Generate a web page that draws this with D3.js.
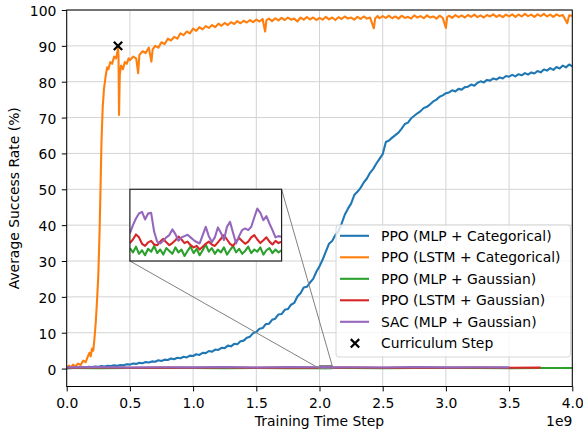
<!DOCTYPE html>
<html><head><meta charset="utf-8">
<script src="https://cdn.jsdelivr.net/npm/d3@7"></script>
<style>html,body{margin:0;padding:0;background:#fff}svg{display:block}text{font-family:"DejaVu Sans",sans-serif}</style>
</head><body>
<svg id="c" width="583" height="437"></svg>
<script>
// ---------- DATA (x in units of 1e9 training steps) ----------
const xTicks = [0.0,0.5,1.0,1.5,2.0,2.5,3.0,3.5,4.0];
const yTicks = [0,10,20,30,40,50,60,70,80,90,100];
const seriesNames = ["PPO (MLP + Categorical)","PPO (LSTM + Categorical)","PPO (MLP + Gaussian)","PPO (LSTM + Gaussian)","SAC (MLP + Gaussian)"];
const seriesColors = ["#1f77b4","#ff7f0e","#2ca02c","#d62728","#9467bd"];
const markerName = "Curriculum Step";

const blueStep = 0.025;
const blueY = [0.0,0.1,0.2,0.3,0.2,0.4,0.3,0.5,0.4,0.6,0.5,0.7,0.6,0.8,0.7,0.9,0.8,1.0,0.9,1.2,
1.1,1.4,1.3,1.6,1.5,1.8,1.7,2.0,1.9,2.3,2.1,2.5,2.4,2.8,2.6,3.0,2.9,3.3,3.1,3.6,
3.5,4.0,3.8,4.4,4.3,4.9,4.7,5.3,5.2,5.8,5.7,6.4,6.2,6.9,6.8,7.6,7.8,8.6,8.9,9.9,
10.2,11.1,11.3,12.4,12.5,13.6,13.9,15.1,15.2,16.4,16.6,17.8,18.3,20.1,21.0,22.6,22.8,24.0,25.0,27.0,
28.5,30.4,32.6,34.8,35.6,37.2,38.3,40.4,42.9,44.6,46.0,48.4,49.3,50.4,51.9,53.0,54.6,55.7,57.2,58.5,
59.8,63.2,63.6,64.4,65.1,65.8,66.9,68.2,68.6,69.8,70.5,71.2,71.8,72.7,73.0,73.7,74.5,75.0,75.8,76.2,
76.8,77.0,77.6,77.3,78.0,77.8,78.5,78.6,79.2,78.9,79.7,80.1,79.8,80.5,80.3,80.9,80.6,81.2,80.9,81.6,
81.4,81.9,81.5,82.1,81.8,82.4,82.0,82.6,82.3,83.0,82.6,83.4,83.1,83.8,83.3,84.1,83.7,84.5,84.0,84.8,84.3];

const orangeX = [0.00,0.02,0.03,0.05,0.07,0.09,0.11,0.13,0.15,0.17,0.18,0.19,0.20,0.21,0.22,0.23,0.24,0.25,0.26,0.265,
0.275,0.285,0.295,0.31,0.32,0.33,0.345,0.36,0.375,0.39,0.40,0.406,0.41,0.414,0.42,0.43,0.445,0.46,0.475,0.49,
0.50,0.525,0.55,0.565,0.575,0.60,0.625,0.65,0.67,0.68,0.70,0.725,0.75,0.775,0.80,0.825,0.85,0.875,0.90,0.925,
0.95,0.975,1.00,1.025,1.05,1.075,1.10,1.125,1.15,1.175,1.20,1.225,1.25,1.275,1.30,1.325,1.35,1.375,1.40,1.425,
1.45,1.475,1.50,1.525,1.55,1.57,1.58,1.60,1.625,1.65,1.675,1.70,1.725,1.75,1.775,1.80,1.825,1.85,1.875,1.90,
1.925,1.95,1.975,2.00,2.025,2.05,2.075,2.10,2.125,2.15,2.175,2.20,2.225,2.25,2.275,2.30,2.325,2.35,2.375,2.40,
2.43,2.44,2.46,2.475,2.50,2.525,2.55,2.575,2.60,2.625,2.65,2.675,2.70,2.725,2.75,2.775,2.80,2.825,2.85,2.875,
2.90,2.925,2.95,2.975,3.00,3.01,3.025,3.05,3.075,3.10,3.125,3.15,3.175,3.20,3.225,3.25,3.275,3.30,3.325,3.35,
3.375,3.40,3.425,3.45,3.475,3.50,3.525,3.55,3.575,3.60,3.625,3.65,3.675,3.70,3.725,3.75,3.775,3.80,3.825,3.85,
3.875,3.90,3.925,3.96,3.975,4.00];
const orangeY = [0.3,0.8,0.2,1.1,0.6,1.4,1.0,2.2,1.8,3.6,4.4,3.4,5.6,5.0,8.5,13,19,26,38,46,
63,73,78,82,84,83.5,85.5,85,87,86.5,88,89.5,87,70.7,82,84.5,83.5,85.5,85,86.5,
86,87,86.5,82.4,87.5,88.5,88,89.5,85.6,89,90,89.5,91,90.5,92,91.5,92.5,92,93.5,93,
94,93.5,94.8,94.2,95.2,94.6,95.5,95,95.8,95.2,96.2,95.6,96.4,95.8,96.6,96.1,96.9,96.3,97,96.5,
97.2,96.6,97.3,96.8,97.5,94.0,97.2,97.6,96.9,97.7,97.1,97.8,97.2,97.9,97.3,97.6,96.8,97.9,97.3,98.0,
97.4,97.9,97.2,97.8,97.3,98.1,97.4,97.9,97.2,98.0,97.5,98.2,97.6,97.9,97.3,98.1,97.5,98.2,97.6,97.9,
94.9,97.6,98.3,97.7,98.3,97.8,98.4,97.7,98.2,97.6,98.4,97.8,98.1,97.6,98.5,97.9,98.3,97.7,98.5,97.9,
98.2,97.6,98.4,97.8,95.0,98.0,98.4,97.8,98.6,98.0,98.5,97.9,98.6,98.1,98.7,98.0,98.5,97.9,98.6,98.2,
98.8,98.1,98.6,98.0,98.7,98.2,98.8,98.1,98.7,98.2,98.9,98.3,98.7,98.1,98.8,98.3,98.9,98.2,98.7,98.1,
98.8,98.3,98.6,96.3,98.5,98.4];

// low (near-zero) series: coarse points over the whole run
const lowX = [0,0.25,0.5,0.75,1.0,1.25,1.5,1.75,2.25,2.5,2.75,3.0,3.25,3.5,3.75,4.0];
const greenLow  = [0.15,0.12,0.18,0.14,0.16,0.11,0.17,0.13,0.15,0.12,0.16,0.14,0.18,0.13,0.15,0.14];
const redLow    = [0.25,0.28,0.22,0.27,0.24,0.30,0.23,0.26,0.28,0.22,0.27,0.25,0.29,0.24,0.26];
const purpleLow = [0.34,0.40,0.30,0.38,0.33,0.45,0.31,0.39,0.36,0.30,0.42,0.33,0.37,0.34];
const greenEnd = 4.0, redEnd = 3.75, purpleEnd = 3.5;

// zoomed window (inset) detail, x from 2.0 to 2.1
const zoomX0 = 2.0, zoomStep = 0.002;
const greenZoom = [0.18,0.12,0.20,0.10,0.15,0.08,0.17,0.13,0.21,0.11,0.16,0.09,0.18,0.14,0.10,0.19,0.12,0.16,0.07,0.14,
0.20,0.11,0.17,0.08,0.15,0.23,0.13,0.18,0.10,0.16,0.12,0.19,0.09,0.15,0.21,0.12,0.17,0.10,0.14,0.20,
0.11,0.16,0.13,0.19,0.09,0.15,0.18,0.11,0.16,0.12,0.15];
const redZoom = [0.25,0.30,0.37,0.33,0.24,0.21,0.26,0.28,0.23,0.22,0.27,0.31,0.26,0.22,0.25,0.29,0.34,0.30,0.25,0.27,
0.22,0.19,0.21,0.16,0.20,0.24,0.27,0.23,0.21,0.26,0.31,0.36,0.30,0.24,0.21,0.27,0.32,0.28,0.24,0.27,
0.33,0.36,0.30,0.25,0.29,0.33,0.27,0.23,0.28,0.25,0.27];
const purpleZoom = [0.384,0.500,0.593,0.662,0.685,0.579,0.662,0.671,0.407,0.269,0.245,0.282,0.329,0.361,0.440,0.375,0.282,0.329,0.347,0.366,
0.329,0.292,0.264,0.245,0.361,0.477,0.347,0.264,0.329,0.468,0.394,0.292,0.477,0.546,0.394,0.245,0.347,0.431,0.454,0.431,
0.477,0.606,0.731,0.671,0.569,0.625,0.523,0.431,0.329,0.347,0.338];
const zoomY = [0, 0.85];

const curriculum = [{x:0.406, y:90}];

// inset placement in data coords of the main axes
const insetBox = {x0:0.5, x1:1.7, y0:30, y1:50};
const insetY = [0, 1];

// ---------- BUILD ----------
const zoomXs = greenZoom.map((_,i)=> zoomX0 + i*zoomStep);
const zoomX1 = zoomXs[zoomXs.length-1];
function buildLow(low, zoomVals, end){
  const pts = low.map((v,i)=>({x:lowX[i], y:v})).filter(p=>p.x<=end);
  zoomVals.forEach((v,i)=>pts.push({x:zoomXs[i], y:v}));
  pts.sort((a,b)=>a.x-b.x);
  return pts;
}
const blue = blueY.map((v,i)=>({x:i*blueStep, y:v}));
const orange = orangeY.map((v,i)=>({x:orangeX[i], y:v}));
const green = buildLow(greenLow, greenZoom, greenEnd);
const red = buildLow(redLow, redZoom, redEnd);
const purple = buildLow(purpleLow, purpleZoom, purpleEnd);
const allSeries = [blue, orange, green, red, purple];

const svg = d3.select("#c");
const L=66.7, R=572.3, T=10, B=386.5;
const x = d3.scaleLinear().domain([0,4]).range([L,R]);
const y = d3.scaleLinear().domain([-5,100]).range([B,T]);
const FS = "13.9px";
const LW = 2.1;

// grid
const g = svg.append("g");
g.selectAll(".gx").data(xTicks).join("line")
  .attr("x1",d=>x(d)).attr("x2",d=>x(d)).attr("y1",T).attr("y2",B)
  .attr("stroke","#d3d3d3").attr("stroke-width",1);
g.selectAll(".gy").data(yTicks).join("line")
  .attr("y1",d=>y(d)).attr("y2",d=>y(d)).attr("x1",L).attr("x2",R)
  .attr("stroke","#d3d3d3").attr("stroke-width",1);

svg.append("clipPath").attr("id","clip").append("rect")
  .attr("x",L).attr("y",T).attr("width",R-L).attr("height",B-T);

const line = d3.line().x(d=>x(d.x)).y(d=>y(d.y));
const lines = svg.append("g").attr("clip-path","url(#clip)");
allSeries.forEach((s,i)=>{
  lines.append("path").datum(s).attr("d",line).attr("fill","none")
    .attr("stroke",seriesColors[i]).attr("stroke-width",LW).attr("stroke-linejoin","round");
});

// curriculum marker
function xMark(sel, cx, cy, r){
  sel.append("path").attr("d",`M${cx-r},${cy-r}L${cx+r},${cy+r}M${cx-r},${cy+r}L${cx+r},${cy-r}`)
    .attr("stroke","#000").attr("stroke-width",2.2).attr("fill","none");
}
curriculum.forEach(p=>xMark(svg, x(p.x), y(p.y), 4.2));

// axes
const xAxis = svg.append("g").attr("transform",`translate(0,${B})`)
  .call(d3.axisBottom(x).tickValues(xTicks).tickFormat(d3.format(".1f")).tickSize(4.9).tickSizeOuter(0));
const yAxis = svg.append("g").attr("transform",`translate(${L},0)`)
  .call(d3.axisLeft(y).tickValues(yTicks).tickFormat(d3.format("d")).tickSize(4.9).tickPadding(5.5).tickSizeOuter(0));
[xAxis,yAxis].forEach(a=>{
  a.select(".domain").remove();
  a.selectAll("line").attr("stroke","#000").attr("stroke-width",1);
  a.selectAll("text").attr("font-size",FS).attr("fill","#000").attr("font-family","DejaVu Sans");
});
xAxis.selectAll("text").attr("y",21.8).attr("dy",0);
yAxis.selectAll("text").attr("dy","0.4em");
// spines
svg.append("rect").attr("x",L).attr("y",T).attr("width",R-L).attr("height",B-T)
  .attr("fill","none").attr("stroke","#000").attr("stroke-width",1);

svg.append("text").attr("x",(L+R)/2).attr("y",426).attr("text-anchor","middle")
  .attr("font-size",FS).text("Training Time Step");
svg.append("text").attr("x",R).attr("y",425.7).attr("text-anchor","end")
  .attr("font-size",FS).text("1e9");
svg.append("text").attr("transform",`translate(19,${(T+B)/2}) rotate(-90)`).attr("text-anchor","middle")
  .attr("font-size",FS).text("Average Success Rate (%)");

// zoom indicator rectangle + connectors
const zx0 = x(zoomX0), zx1 = x(zoomX1), zyb = y(zoomY[0]), zyt = y(zoomY[1]);
svg.append("rect").attr("x",zx0).attr("y",zyt).attr("width",zx1-zx0).attr("height",zyb-zyt)
  .attr("fill","none").attr("stroke","#808080").attr("stroke-width",1);
const ix0 = x(insetBox.x0), ix1 = x(insetBox.x1), iyt = y(insetBox.y1), iyb = y(insetBox.y0);
svg.append("line").attr("x1",ix0).attr("y1",iyb).attr("x2",zx0).attr("y2",zyb)
  .attr("stroke","#808080").attr("stroke-width",1);
svg.append("line").attr("x1",ix1).attr("y1",iyt).attr("x2",zx1).attr("y2",zyt)
  .attr("stroke","#808080").attr("stroke-width",1);

// legend
const lg = svg.append("g");
lg.append("rect").attr("x",336).attr("y",225).attr("width",234.5).attr("height",132).attr("rx",3)
  .attr("fill","rgba(255,255,255,0.8)").attr("stroke","#d6d6d6").attr("stroke-width",1);
const rowY = i => 235.8 + i*21.5;
seriesNames.forEach((n,i)=>{
  lg.append("line").attr("x1",340).attr("x2",369).attr("y1",rowY(i)).attr("y2",rowY(i))
    .attr("stroke",seriesColors[i]).attr("stroke-width",LW);
  lg.append("text").attr("x",381).attr("y",rowY(i)).attr("dy","0.36em").attr("font-size",FS).text(n);
});
xMark(lg, 355, rowY(5), 4.2);
lg.append("text").attr("x",381).attr("y",rowY(5)).attr("dy","0.36em").attr("font-size",FS).text(markerName);

// inset axes (shows the zoomed window scaled to fill its box)
const xi = d3.scaleLinear().domain([zoomX0, zoomX1]).range([ix0, ix1]);
const yi = d3.scaleLinear().domain(insetY).range([iyb, iyt]);
const ins = svg.append("g");
ins.append("rect").attr("x",ix0).attr("y",iyt).attr("width",ix1-ix0).attr("height",iyb-iyt).attr("fill","#fff");
svg.append("clipPath").attr("id","clipi").append("rect")
  .attr("x",ix0).attr("y",iyt).attr("width",ix1-ix0).attr("height",iyb-iyt);
const li = d3.line().x(d=>xi(d.x)).y(d=>yi(d.y));
const insLines = ins.append("g").attr("clip-path","url(#clipi)");
[green, red, purple].forEach((s,k)=>{
  insLines.append("path").datum(s.filter(p=>p.x>=zoomX0-1e-9 && p.x<=zoomX1+1e-9)).attr("d",li)
    .attr("fill","none").attr("stroke",seriesColors[k+2]).attr("stroke-width",LW).attr("stroke-linejoin","round");
});
ins.append("rect").attr("x",ix0).attr("y",iyt).attr("width",ix1-ix0).attr("height",iyb-iyt)
  .attr("fill","none").attr("stroke","#222").attr("stroke-width",1.2);
</script>
</body></html>
